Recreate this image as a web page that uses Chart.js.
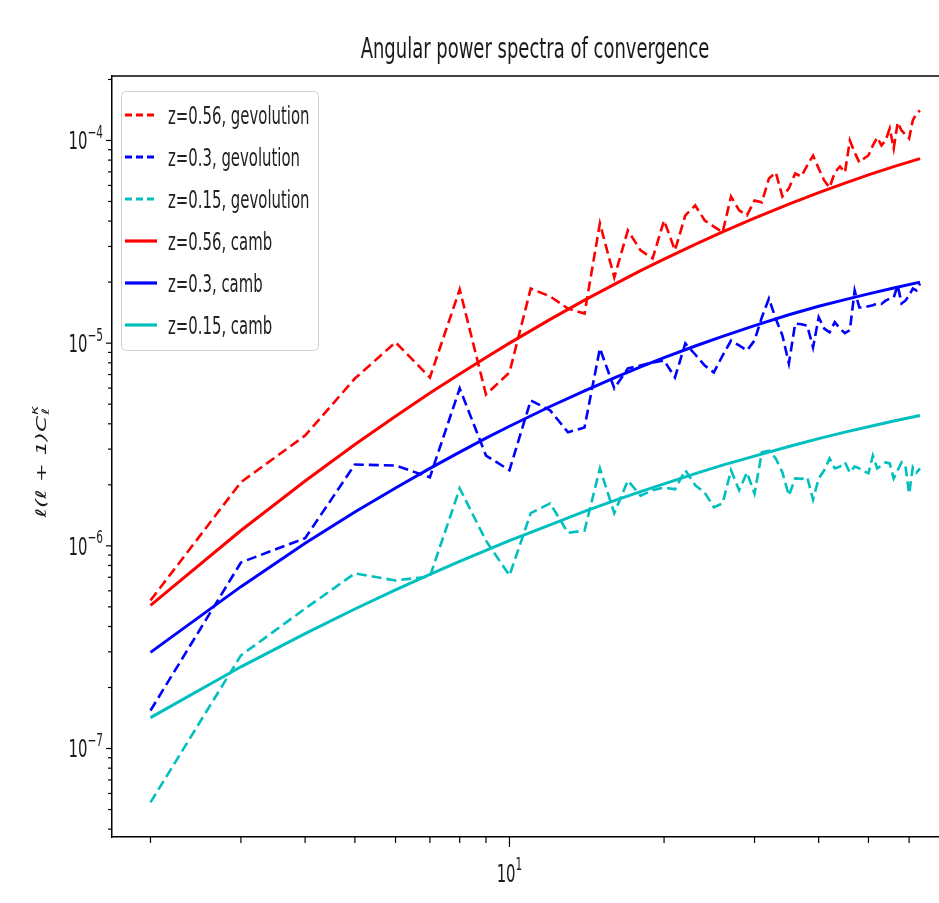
<!DOCTYPE html>
<html><head><meta charset="utf-8">
<script src="https://cdn.jsdelivr.net/npm/chart.js@4.4.1/dist/chart.umd.min.js"></script>
<style>
html,body{margin:0;padding:0;background:#fff;overflow:hidden;width:939px;height:903px}
#wrap{position:absolute;left:0;top:0;width:962px;height:903px}
</style>
</head><body><div id="wrap"><canvas id="c" width="962" height="903"></canvas></div>
<script>
// ---------------- data ----------------
const ell = [2,3,4,5,6,7,8,9,10,11,12,13,14,15,16,17,18,19,20,21,22,23,24,25,26,27,28,29,30,31,32,33,34,35,36,37,38,39,40,41,42,43,44,45,46,47,48,49,50,51,52,53,54,55,56,57,58,59,60,61,62,63];
const gevZ056 = [5.38e-7,2.06e-6,3.50e-6,6.69e-6,1.01e-5,6.77e-6,1.84e-5,5.58e-6,7.17e-6,1.86e-5,1.70e-5,1.48e-5,1.40e-5,3.90e-5,2.11e-5,3.60e-5,2.87e-5,2.62e-5,4.03e-5,2.87e-5,4.27e-5,4.78e-5,4.03e-5,3.76e-5,3.52e-5,5.29e-5,4.52e-5,4.27e-5,5.06e-5,4.95e-5,6.49e-5,6.95e-5,5.29e-5,5.80e-5,6.87e-5,6.64e-5,7.53e-5,8.43e-5,7.27e-5,6.35e-5,5.86e-5,6.95e-5,7.44e-5,6.95e-5,1.00e-4,8.73e-5,7.79e-5,8.15e-5,8.43e-5,9.45e-5,1.035e-4,9.45e-5,1.00e-4,1.146e-4,9.13e-5,1.227e-4,1.12e-4,1.07e-4,1.023e-4,1.255e-4,1.359e-4,1.406e-4];
const gevZ03 = [1.54e-7,8.28e-7,1.09e-6,2.52e-6,2.49e-6,2.18e-6,5.98e-6,2.79e-6,2.36e-6,5.22e-6,4.66e-6,3.63e-6,3.84e-6,9.42e-6,5.98e-6,7.50e-6,7.76e-6,8.03e-6,8.22e-6,6.77e-6,9.97e-6,8.79e-6,7.76e-6,7.17e-6,8.69e-6,1.03e-5,9.74e-6,9.20e-6,1.03e-5,1.34e-5,1.66e-5,1.32e-5,1.09e-5,7.94e-6,1.25e-5,1.24e-5,1.22e-5,9.52e-6,1.34e-5,1.18e-5,1.13e-5,1.27e-5,1.18e-5,1.12e-5,1.16e-5,1.82e-5,1.50e-5,1.50e-5,1.52e-5,1.54e-5,1.57e-5,1.56e-5,1.62e-5,1.66e-5,1.68e-5,1.93e-5,1.57e-5,1.62e-5,1.72e-5,1.86e-5,1.82e-5,1.97e-5];
const gevZ015 = [5.42e-8,2.88e-7,4.90e-7,7.31e-7,6.75e-7,7.06e-7,1.92e-6,1.06e-6,7.14e-7,1.45e-6,1.62e-6,1.16e-6,1.19e-6,2.41e-6,1.45e-6,2.10e-6,1.77e-6,1.88e-6,1.94e-6,1.90e-6,2.36e-6,1.99e-6,1.83e-6,1.55e-6,1.62e-6,2.36e-6,1.88e-6,2.30e-6,1.81e-6,2.89e-6,2.95e-6,2.70e-6,2.30e-6,1.77e-6,2.15e-6,2.14e-6,2.18e-6,1.69e-6,2.15e-6,2.36e-6,2.70e-6,2.41e-6,2.46e-6,2.58e-6,2.30e-6,2.46e-6,2.41e-6,2.33e-6,2.28e-6,2.79e-6,2.41e-6,2.49e-6,2.58e-6,2.55e-6,2.15e-6,2.36e-6,2.58e-6,2.49e-6,1.81e-6,2.44e-6,2.30e-6,2.41e-6];
const cambEll = [2,3,4,5,6,7,8,9,10,12,14,16,18,20,23,26,30,35,40,45,50,56,63];
const cambZ056 = [5.09e-7,1.19e-6,2.09e-6,3.16e-6,4.36e-6,5.67e-6,7.05e-6,8.50e-6,1.00e-5,1.31e-5,1.63e-5,1.95e-5,2.28e-5,2.60e-5,3.07e-5,3.54e-5,4.14e-5,4.85e-5,5.53e-5,6.16e-5,6.76e-5,7.43e-5,8.14e-5];
const cambZ03 = [2.98e-7,6.29e-7,1.03e-6,1.47e-6,1.93e-6,2.41e-6,2.90e-6,3.40e-6,3.89e-6,4.87e-6,5.82e-6,6.74e-6,7.63e-6,8.48e-6,9.68e-6,1.08e-5,1.22e-5,1.38e-5,1.52e-5,1.64e-5,1.75e-5,1.87e-5,2.00e-5];
const cambZ015 = [1.42e-7,2.53e-7,3.69e-7,4.88e-7,6.06e-7,7.23e-7,8.39e-7,9.51e-7,1.06e-6,1.27e-6,1.48e-6,1.67e-6,1.85e-6,2.02e-6,2.27e-6,2.50e-6,2.77e-6,3.09e-6,3.38e-6,3.64e-6,3.87e-6,4.13e-6,4.40e-6];
const seriesLabels = ['z=0.56, gevolution','z=0.3, gevolution','z=0.15, gevolution','z=0.56, camb','z=0.3, camb','z=0.15, camb'];
const xTickValues = [2,3,4,5,6,7,8,9,10,20,30,40,50,60,70];
const yTickValues = [4e-8,5e-8,6e-8,7e-8,8e-8,9e-8,1e-7,2e-7,3e-7,4e-7,5e-7,6e-7,7e-7,8e-7,9e-7,1e-6,2e-6,3e-6,4e-6,5e-6,6e-6,7e-6,8e-6,9e-6,1e-5,2e-5,3e-5,4e-5,5e-5,6e-5,7e-5,8e-5,9e-5,1e-4,2e-4];
const xMajorTicks = [10];
const xTickExponents = ['1'];
const yMajorTicks = [1e-7,1e-6,1e-5,1e-4];
const yTickExponents = ['\u22127','\u22126','\u22125','\u22124'];
const titleText = 'Angular power spectra of convergence';

// ---------------- style ----------------
const FONT = "'DejaVu Sans', 'Liberation Sans', sans-serif";
const SX = 0.62;
const RED = 'rgb(255,0,0)', BLUE = 'rgb(0,0,255)', CYAN = 'rgb(0,191,191)';
const colors = [RED, BLUE, CYAN, RED, BLUE, CYAN];
const dashed = [true, true, true, false, false, false];

function pts(xs, ys){ return xs.map((x,i)=>({x:x, y:ys[i]})); }
const seriesData = [pts(ell,gevZ056), pts(ell,gevZ03), pts(ell,gevZ015), pts(cambEll,cambZ056), pts(cambEll,cambZ03), pts(cambEll,cambZ015)];

const datasets = seriesData.map((d,i)=>({
  label: seriesLabels[i], data: d, borderColor: colors[i], backgroundColor: colors[i],
  borderWidth: dashed[i] ? 2.6 : 3, borderDash: dashed[i] ? [10,5] : [],
  pointRadius: 0, tension: 0, fill: false, order: 6 - i, borderCapStyle: 'butt'
}));

function sqText(ctx, text, x, y, size, align, style){
  ctx.save();
  ctx.font = (style||'') + ' ' + size + 'px ' + FONT;
  const w = ctx.measureText(text).width * SX;
  let x0 = x;
  if (align === 'center') x0 = x - w/2; else if (align === 'right') x0 = x - w;
  ctx.translate(x0, y); ctx.scale(SX, 1);
  ctx.textAlign = 'left'; ctx.textBaseline = 'alphabetic';
  ctx.fillText(text, 0, 0);
  ctx.restore();
  return w;
}
function measure(ctx, text, size, style){
  ctx.save(); ctx.font = (style||'') + ' ' + size + 'px ' + FONT;
  const w = ctx.measureText(text).width * SX; ctx.restore(); return w;
}

const decor = {
  id: 'decor',
  afterDraw(chart){
    const ctx = chart.ctx, a = chart.chartArea;
    const xs = chart.scales.x, ys = chart.scales.y;
    ctx.save();
    ctx.fillStyle = '#1a1a1a';
    // top spine
    ctx.strokeStyle = '#000'; ctx.lineWidth = 1.5;
    ctx.beginPath(); ctx.moveTo(a.left - 0.75, a.top); ctx.lineTo(a.right, a.top); ctx.stroke();
    // tick marks
    const isMajor = v => Math.abs(Math.log10(v) - Math.round(Math.log10(v))) < 1e-6;
    ctx.lineWidth = 1.2;
    xs.ticks.forEach(t => {
      const px = xs.getPixelForValue(t.value);
      const len = isMajor(t.value) ? 10 : 6;
      ctx.beginPath(); ctx.moveTo(px, a.bottom); ctx.lineTo(px, a.bottom + len); ctx.stroke();
    });
    ys.ticks.forEach(t => {
      if (t.value < ys.min || t.value > ys.max) return;
      const py = ys.getPixelForValue(t.value);
      const len = isMajor(t.value) ? 6 : 4;
      ctx.beginPath(); ctx.moveTo(a.left, py); ctx.lineTo(a.left - len, py); ctx.stroke();
    });
    // y tick labels
    yMajorTicks.forEach((v,i) => {
      const py = ys.getPixelForValue(v);
      const w1 = measure(ctx, '10', 24), w2 = measure(ctx, yTickExponents[i], 17);
      const x0 = a.left - 9 - (w1 + w2);
      sqText(ctx, '10', x0, py + 8.7, 24, 'left');
      sqText(ctx, yTickExponents[i], x0 + w1, py - 2.5, 17, 'left');
    });
    // x tick labels
    xMajorTicks.forEach((v,i) => {
      const px = xs.getPixelForValue(v);
      const w1 = measure(ctx, '10', 24), w2 = measure(ctx, xTickExponents[i], 17);
      const x0 = px - (w1 + w2)/2;
      sqText(ctx, '10', x0, a.bottom + 45, 24, 'left');
      sqText(ctx, xTickExponents[i], x0 + w1, a.bottom + 33, 17, 'left');
    });
    // title
    sqText(ctx, titleText, (a.left + a.right)/2, 58, 29, 'center');
    // y label (rotated)
    ctx.save();
    ctx.translate(42, 462); ctx.rotate(-Math.PI/2); ctx.scale(1, SX);
    ctx.textBaseline = 'middle';
    ctx.font = 'italic 23px ' + FONT;
    const main = '\u2113(\u2113 + 1)C';
    const wm = ctx.measureText(main).width;
    ctx.font = 'italic 16px ' + FONT;
    const ws = Math.max(ctx.measureText('\u2113').width, ctx.measureText('\u03ba').width);
    const start = -(wm + ws)/2;
    ctx.font = 'italic 23px ' + FONT;
    ctx.fillText(main, start, 0);
    ctx.font = 'italic 16px ' + FONT;
    ctx.fillText('\u2113', start + wm + 1, 7);
    ctx.fillText('\u03ba', start + wm + 1, -10);
    ctx.restore();
    // legend
    const lx = 121.5, ly = 91.5, lw = 197, lh = 259, r = 4;
    ctx.beginPath();
    ctx.moveTo(lx + r, ly); ctx.lineTo(lx + lw - r, ly); ctx.arcTo(lx + lw, ly, lx + lw, ly + r, r);
    ctx.lineTo(lx + lw, ly + lh - r); ctx.arcTo(lx + lw, ly + lh, lx + lw - r, ly + lh, r);
    ctx.lineTo(lx + r, ly + lh); ctx.arcTo(lx, ly + lh, lx, ly + lh - r, r);
    ctx.lineTo(lx, ly + r); ctx.arcTo(lx, ly, lx + r, ly, r); ctx.closePath();
    ctx.fillStyle = 'rgba(255,255,255,0.85)'; ctx.fill();
    ctx.strokeStyle = '#d0d0d0'; ctx.lineWidth = 1; ctx.stroke();
    chart.data.datasets.forEach((ds, i) => {
      const cy = 115 + i * 42;
      ctx.strokeStyle = ds.borderColor; ctx.lineWidth = 3.2;
      ctx.setLineDash(dashed[i] ? [7,4] : []);
      ctx.beginPath(); ctx.moveTo(125, cy); ctx.lineTo(157, cy); ctx.stroke();
      ctx.setLineDash([]);
      ctx.fillStyle = '#222';
      sqText(ctx, ds.label, 168, cy + 8.5, 24, 'left');
    });
    ctx.restore();
  }
};

new Chart(document.getElementById('c'), {
  type: 'line',
  data: { datasets },
  options: {
    responsive: false, animation: false, devicePixelRatio: 1,
    layout: { padding: { top: 76, right: 4, left: 0, bottom: 0 } },
    plugins: { legend: { display: false }, tooltip: { enabled: false }, title: { display: false } },
    scales: {
      x: {
        type: 'logarithmic', min: 1.683, max: 74.7,
        afterBuildTicks: s => { s.ticks = xTickValues.map(v => ({ value: v })); },
        afterFit: s => { s.height = 66; },
        ticks: { display: false },
        grid: { display: false, drawTicks: false },
        border: { display: true, color: '#000', width: 1.5 }
      },
      y: {
        type: 'logarithmic', min: 3.66e-8, max: 2.08e-4,
        afterBuildTicks: s => { s.ticks = yTickValues.map(v => ({ value: v })); },
        afterFit: s => { s.width = 112; },
        ticks: { display: false },
        grid: { display: false, drawTicks: false },
        border: { display: true, color: '#000', width: 1.5 }
      }
    }
  },
  plugins: [decor]
});
</script></body></html>
